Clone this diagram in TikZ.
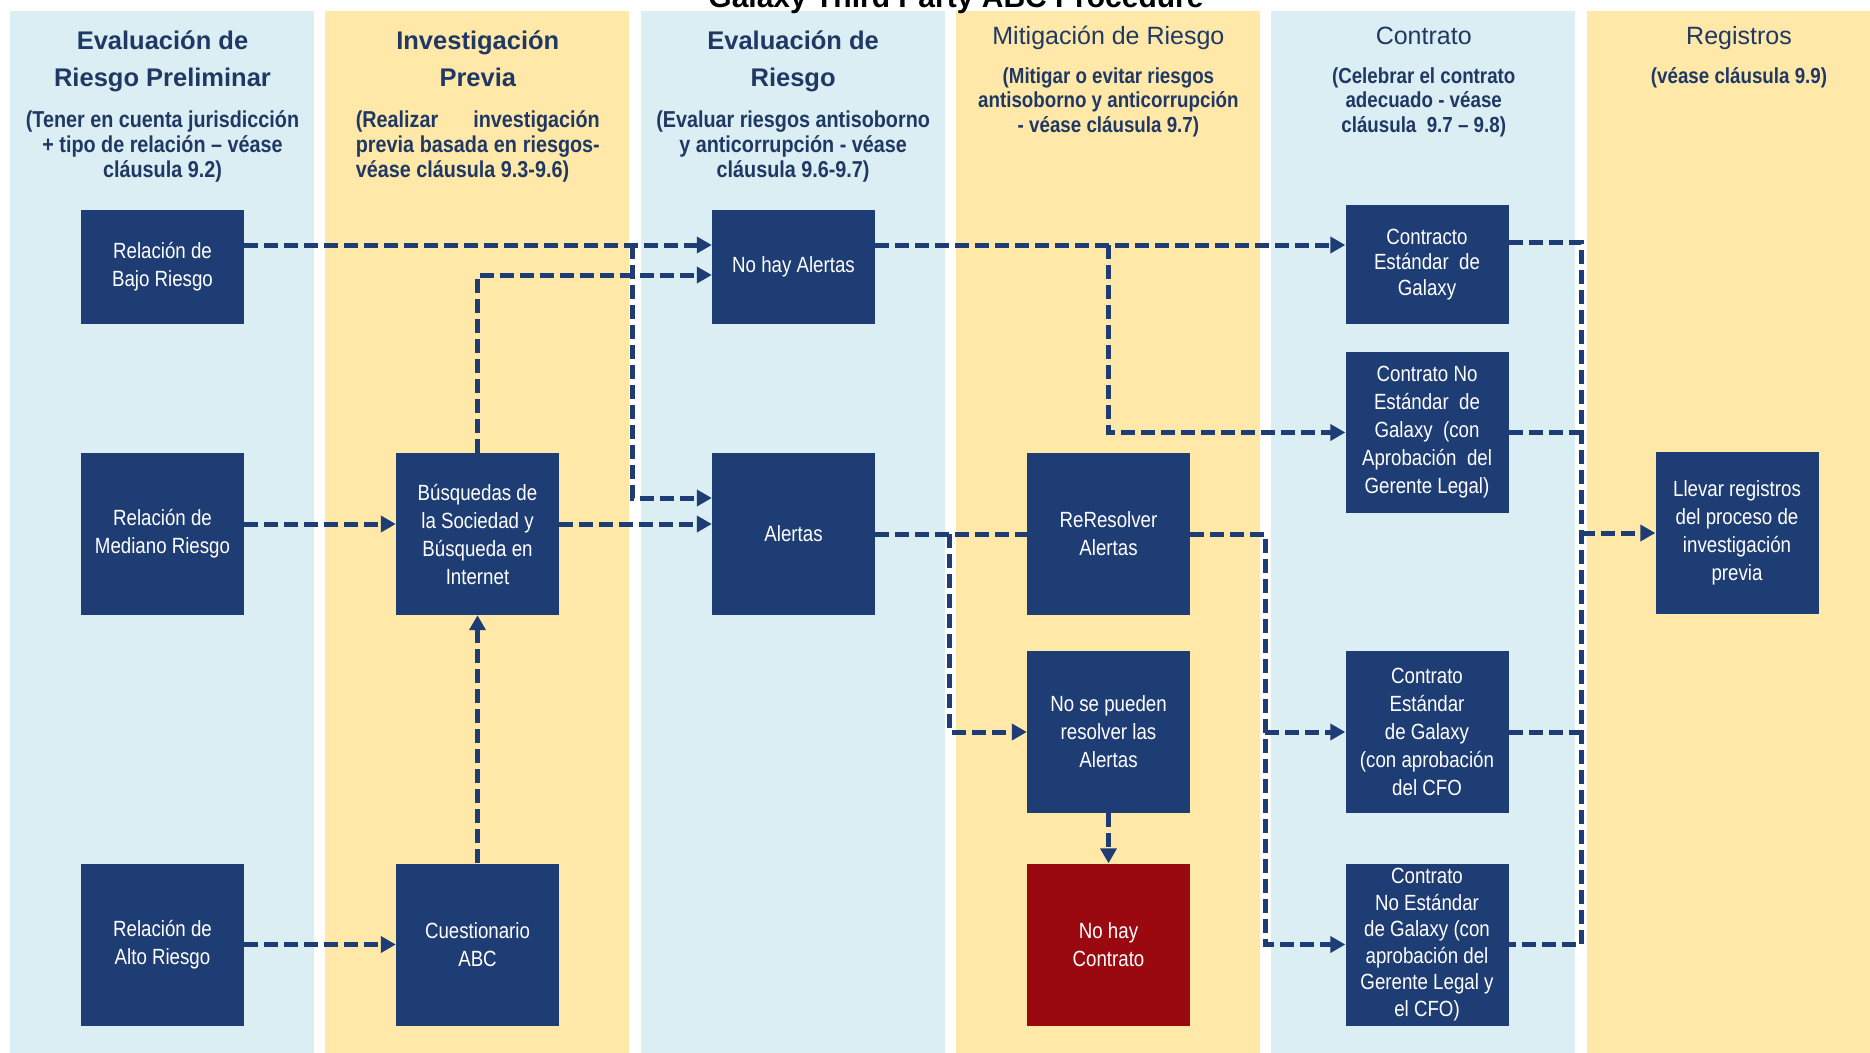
\documentclass[tikz,border=0pt]{standalone}
\usepackage{fontspec}
\setmainfont{Liberation Sans}
\newfontfamily\boxfont{Liberation Sans}[FakeStretch=0.85]
\newfontfamily\notefont{Liberation Sans}[FakeStretch=0.86]
\usepackage{xcolor}
\usepackage{tikz}
\usetikzlibrary{calc, arrows.meta}

\definecolor{boxblue}{RGB}{31,61,117}
\definecolor{headblue}{RGB}{31,56,100}
\definecolor{stopred}{RGB}{154,8,16}
\definecolor{laneblue}{RGB}{218,238,243}
\definecolor{laneyellow}{RGB}{255,232,168}

\tikzset{
	stage/.style={fill=boxblue, text=white, inner sep=1pt, align=center,
		minimum width=163pt, minimum height=162pt,
		font=\boxfont\fontsize{22}{28}\selectfont},
	lanehead/.style={anchor=base, align=center, text=headblue,
		font=\bfseries\fontsize{25.5}{37}\selectfont},
	lanetitle/.style={anchor=base, align=center, text=headblue,
		font=\fontsize{25}{30}\selectfont},
	lanenote/.style={anchor=base, align=center, text=headblue,
		font=\notefont\bfseries\fontsize{23}{25}\selectfont},
	lanenotesmall/.style={lanenote, font=\notefont\bfseries\fontsize{21.8}{24.5}\selectfont},
	link/.style={draw=boxblue, line width=5pt, dash pattern=on 14pt off 6pt}
}

\begin{document}
\begin{tikzpicture}[x=1pt, y=-1pt]
	\def\laneW{304};
	\def\laneStep{315.3};
	\def\laneTop{11};

	\useasboundingbox (0,0) rectangle (1870,1052);
	\clip (0,0) rectangle (1870,1052);
	\fill[white] (0,0) rectangle (1870,1052);

	% swimlanes
	\foreach \i/\c in {0/laneblue, 1/laneyellow, 2/laneblue, 3/laneyellow, 4/laneblue, 5/laneyellow}
		\fill[\c] ({10+\i*\laneStep},\laneTop) rectangle ++(\laneW,1100);

	\node[anchor=base, font=\bfseries\fontsize{30}{36}\selectfont] (title) at (956,8) {Galaxy Third Party ABC Procedure};

	% lane headings (base = last line)
	\node[lanehead] (headPrelim) at (162.5,86) {Evaluación de\\Riesgo Preliminar};
	\node[lanehead] (headPrevia) at (477.8,86) {Investigación\\Previa};
	\node[lanehead] (headEval) at (793.1,86) {Evaluación de\\Riesgo};
	\node[lanetitle] (headMitig) at (1108.4,44) {Mitigación de Riesgo};
	\node[lanetitle] (headContr) at (1423.7,44) {Contrato};
	\node[lanetitle] (headReg) at (1739,44) {Registros};

	\node[lanenote] (notePrelim) at (162.5,177) {(Tener en cuenta jurisdicción\\+ tipo de relación – véase\\cláusula 9.2)};
	\node[lanenote, align=left] (notePrevia) at (477.8,177) {\makebox[244pt][s]{(Realizar investigación}\\\makebox[244pt][s]{previa basada en riesgos-}\\véase cláusula 9.3-9.6)};
	\node[lanenote] (noteEval) at (793.1,177) {(Evaluar riesgos antisoborno\\y anticorrupción - véase\\cláusula 9.6-9.7)};
	\node[lanenotesmall] (noteMitig) at (1108.4,132) {(Mitigar o evitar riesgos\\antisoborno y anticorrupción\\- véase cláusula 9.7)};
	\node[lanenotesmall] (noteContr) at (1423.7,132) {(Celebrar el contrato\\adecuado - véase\\cláusula~ 9.7 – 9.8)};
	\node[lanenotesmall] (noteReg) at (1739,83) {(véase cláusula 9.9)};

	% steps
	\node[stage, minimum height=114pt] (relBajo) at (162.5,267) {Relación de\\Bajo Riesgo};
	\node[stage] (relMed) at (162.5,534) {Relación de\\Mediano Riesgo};
	\node[stage] (relAlto) at (162.5,944.5) {Relación de\\Alto Riesgo};

	\node[stage] (busq) at (477.5,534) {Búsquedas de\\la Sociedad y\\Búsqueda en\\Internet};
	\node[stage] (cuest) at (477.5,944.5) {Cuestionario\\ABC};

	\node[stage, minimum height=114pt] (noAlert) at (793.5,267) {No hay Alertas};
	\node[stage] (alertas) at (793.5,534) {Alertas};

	\node[stage] (reres) at (1108.5,534) {ReResolver\\Alertas};
	\node[stage] (noRes) at (1108.5,732) {No se pueden\\resolver las\\Alertas};
	\node[stage, fill=stopred] (noContr) at (1108.5,944.5) {No hay\\Contrato};

	\node[stage, minimum height=119pt, font=\boxfont\fontsize{22}{25.5}\selectfont] (cStd) at (1427,264.5) {Contracto\\Estándar~ de\\Galaxy};
	\node[stage, minimum height=161pt] (cNoStd) at (1427,432.5) {Contrato No\\Estándar~ de\\Galaxy~ (con\\Aprobación~ del\\Gerente Legal)};
	\node[stage] (cStdCFO) at (1427,732) {Contrato\\Estándar\\de Galaxy\\(con aprobación\\del CFO};
	\node[stage, font=\boxfont\fontsize{22}{26.5}\selectfont] (cNoStdCFO) at (1427,944.5) {Contrato\\No Estándar\\de Galaxy (con\\aprobación del\\Gerente Legal y\\el CFO)};

	\node[stage] (registro) at (1737,533) {Llevar registros\\del proceso de\\investigación\\previa};

	% junctions
	\coordinate (split0) at ([xshift=-79pt, yshift=22pt]noAlert.west);
	\coordinate (split1) at ([xshift=-77pt]reres.west);
	\coordinate (split2) at ([xshift=-80pt]cStdCFO.west);
	\coordinate (split3) at ([yshift=22pt]noAlert.east -| reres.north);
	\coordinate (bus) at ([xshift=-74pt]registro.west);

	\begin{scope}[link]
		\draw (alertas.east) -- (reres.west);
		\draw ([yshift=22pt]cStd.east) -- ([yshift=22pt]cStd.east -| bus) |- (cNoStdCFO.east);
		\draw (cNoStd.east) -- (cNoStd.east -| bus);
		\draw (cStdCFO.east) -- (cStdCFO.east -| bus);
	\end{scope}

	\begin{scope}[link, -{Triangle[length=15pt, width=16pt]}]
		\draw ([yshift=22pt]relBajo.east) -- ([yshift=22pt]noAlert.west);
		\draw (busq.north) |- ([yshift=-8pt]noAlert.west);
		\draw (split0) |- ([yshift=36pt]alertas.west);
		\draw ([yshift=10pt]relMed.east) -- ([yshift=10pt]busq.west);
		\draw ([yshift=10pt]busq.east) -- ([yshift=10pt]alertas.west);
		\draw (cuest.north) -- (busq.south);
		\draw (relAlto.east) -- (cuest.west);

		\draw ([yshift=22pt]noAlert.east) -- ([yshift=22pt]noAlert.east -| cStd.west);
		\draw (split3) |- (cNoStd.west);
		\draw (split1) |- (noRes.west);
		\draw (noRes.south) -- (noContr.north);
		\draw (reres.east) -| (split2) |- (cNoStdCFO.west);
		\draw (split2) -- (cStdCFO.west);

		\draw (bus) -- (registro.west);
	\end{scope}
\end{tikzpicture}
\end{document}
